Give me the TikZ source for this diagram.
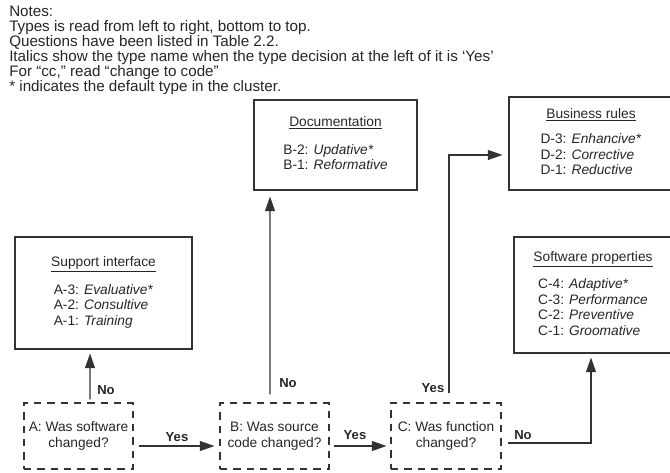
\documentclass[tikz,border=0pt]{standalone}
\usepackage{fontspec}
\setmainfont{Liberation Sans}
\usetikzlibrary{arrows.meta}
\begin{document}
\begin{tikzpicture}[x=0.75pt,y=-0.75pt,
  every node/.style={font=\fontsize{10.3}{11.6}\selectfont, text=black!85, inner sep=0pt},
  typebox/.style={draw=black!80, line width=0.8pt, rectangle},
  decision/.style={draw=black!80, line width=0.8pt, dash pattern=on 5.5pt off 4.5pt,
                   align=center, rectangle},
  flow/.style={draw=black!80, line width=0.8pt, -{Triangle[length=11pt,width=7.5pt]}},
  answer/.style={font=\fontsize{9.8}{11}\selectfont\bfseries},
  notes/.style={font=\fontsize{11.4}{11.2}\selectfont, align=left, anchor=north west}
]
\useasboundingbox (0,0) rectangle (670,472);
\clip (0,0) rectangle (670,472);

% notes block
\node[notes] (notes) at (9,6) {Notes:\\
Types is read from left to right, bottom to top.\\
Questions have been listed in Table 2.2.\\
Italics show the type name when the type decision at the left of it is `Yes'\\
For ``cc,'' read ``change to code''\\
* indicates the default type in the cluster.};

% type clusters
\node[typebox, minimum width=132.75pt, minimum height=84pt] (sup) at (103.5,293)
  {\begin{tabular}{@{}c@{}}\underline{Support interface}\\[9pt]
   \begin{tabular}{@{}l@{}}A-3: \textit{Evaluative*}\\A-2: \textit{Consultive}\\A-1: \textit{Training}\end{tabular}\end{tabular}};
\node[typebox, minimum width=122.25pt, minimum height=67.5pt] (doc) at (335.5,145)
  {\begin{tabular}{@{}c@{}}\underline{Documentation}\\[9pt]
   \begin{tabular}{@{}l@{}}B-2: \textit{Updative*}\\B-1: \textit{Reformative}\end{tabular}\end{tabular}};
\node[typebox, minimum width=123pt, minimum height=69.75pt] (bus) at (591,143.5)
  {\begin{tabular}{@{}c@{}}\underline{Business rules}\\[7pt]
   \begin{tabular}{@{}l@{}}D-3: \textit{Enhancive*}\\D-2: \textit{Corrective}\\D-1: \textit{Reductive}\end{tabular}\end{tabular}};
\node[typebox, minimum width=118.5pt, minimum height=87pt] (soft) at (593,295)
  {\begin{tabular}{@{}c@{}}\underline{Software properties}\\[9pt]
   \begin{tabular}{@{}l@{}}C-4: \textit{Adaptive*}\\C-3: \textit{Performance}\\C-2: \textit{Preventive}\\C-1: \textit{Groomative}\end{tabular}\end{tabular}};

% decisions
\node[decision, minimum width=81.75pt, minimum height=49.5pt] (A) at (78.5,436) {A: Was software\\changed?};
\node[decision, minimum width=81.75pt, minimum height=49.5pt] (B) at (274.5,436) {B: Was source\\code changed?};
\node[decision, minimum width=82.5pt, minimum height=49.5pt] (C) at (446,436) {C: Was function\\changed?};

% connectors
\draw[flow] ([xshift=3.75pt,yshift=-7.5pt]A.east) -- ([xshift=-3.75pt,yshift=-7.5pt]B.west);
\draw[flow] ([xshift=3pt,yshift=-7.5pt]B.east) -- ([xshift=-3pt,yshift=-7.5pt]C.west);
\draw[flow] ([xshift=4.5pt,yshift=-5.25pt]C.east) -| ([xshift=-1.5pt,yshift=-3pt]soft.south);
\draw[flow] ([xshift=2.25pt,yshift=6.75pt]C.north) |- ([xshift=-4.5pt,yshift=-8.6pt]bus.west);
\draw[flow] ([xshift=-3.4pt,yshift=6pt]B.north) -- ([xshift=-49.1pt,yshift=-4.5pt]doc.south);
\draw[flow] ([xshift=8.6pt,yshift=2.25pt]A.north) -- ([xshift=-10.1pt,yshift=-3pt]sup.south);

% answers
\node[answer] (noA) at (106,390) {No};
\node[answer] (noB) at (288,383) {No};
\node[answer] (yesC) at (433,388) {Yes};
\node[answer] (yesAB) at (177,437) {Yes};
\node[answer] (yesBC) at (355,435) {Yes};
\node[answer] (noC) at (523,435) {No};
\end{tikzpicture}
\end{document}
